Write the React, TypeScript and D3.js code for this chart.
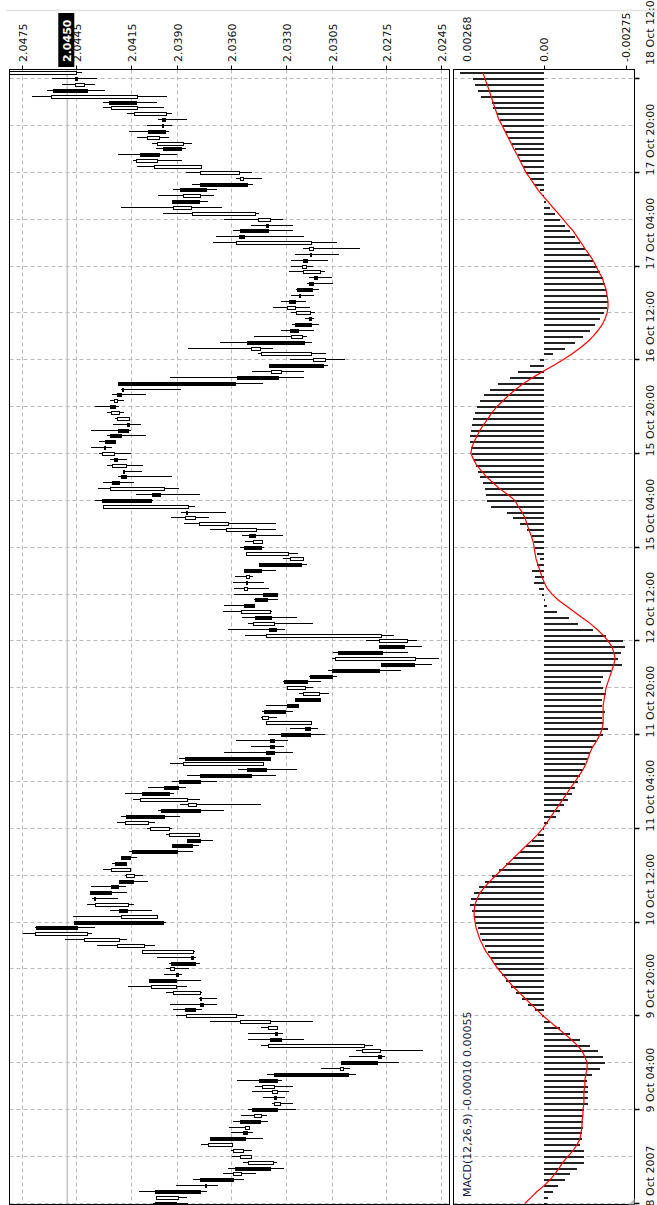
import React from "react";
import * as d3 from "d3";

// Price axis (rotated chart: price runs horizontally, high on the left)
const PRICE_TICKS = [2.0475, 2.0445, 2.0415, 2.039, 2.036, 2.033, 2.0305, 2.0275, 2.0245];
const PRICE_TICK_LABELS = ["2.0475", "2.0445", "2.0415", "2.0390", "2.0360", "2.0330", "2.0305", "2.0275", "2.0245"];
const BID_PRICE = 2.045;
const BID_LABEL = "2.0450";

// MACD axis
const MACD_MAX = 0.00268;
const MACD_MIN = -0.00275;
const MACD_TICK_LABELS = ["0.00268", "0.00", "-0.00275"];
const MACD_TITLE = "MACD(12,26,9) -0.00010 0.00055";

// Time axis, bars listed newest first (index 0 = 18 Oct 13:00)
const TIME_LABELS = ["18 Oct 12:00", "17 Oct 20:00", "17 Oct 04:00", "16 Oct 12:00", "15 Oct 20:00", "15 Oct 04:00", "12 Oct 12:00", "11 Oct 20:00", "11 Oct 04:00", "10 Oct 12:00", "9 Oct 20:00", "9 Oct 04:00", "8 Oct 2007"];
const TIME_LABEL_BARS = [1, 17, 33, 49, 65, 81, 97, 113, 129, 145, 161, 177, 193];

const OPEN = [
2.04448,2.04454,2.04408,2.04576,2.04116,2.04266,2.04116,2.03955,2.03977,2.0398,
2.04055,2.03997,2.0386,2.03973,2.04101,2.04006,2.03763,2.03556,2.03531,2.03767,
2.03878,2.03772,2.03924,2.03818,2.03467,2.03384,2.03406,2.03549,2.03558,2.0316,
2.03151,2.03169,2.03202,2.03187,2.03114,2.03147,2.03172,2.03236,2.03227,2.03282,
2.03247,2.03169,2.03172,2.03251,2.03275,2.03209,2.03511,2.03443,2.0316,2.03084,
2.03391,2.03324,2.03569,2.04219,2.04199,2.04227,2.04223,2.04265,2.04214,2.04159,
2.04172,2.04218,2.04265,2.04291,2.04296,2.04241,2.04241,2.04177,2.04192,2.04201,
2.04251,2.03967,2.04035,2.04305,2.03836,2.03848,2.03797,2.03614,2.03461,2.03501,
2.03428,2.03528,2.03285,2.03205,2.03446,2.03527,2.03501,2.03519,2.0351,2.03422,
2.0347,2.03527,2.03386,2.0347,2.03364,2.03391,2.02779,2.02633,2.02789,2.03013,
2.02589,2.02779,2.03046,2.03165,2.03311,2.03193,2.03119,2.03246,2.03293,2.03416,
2.03394,2.0316,2.03196,2.03324,2.03388,2.03388,2.03406,2.03854,2.03425,2.03511,
2.03768,2.03887,2.03968,2.04088,2.03841,2.03794,2.03982,2.04178,2.04052,2.0394,
2.03777,2.03841,2.03922,2.04143,2.04202,2.04234,2.04156,2.04132,2.04216,2.04256,
2.0437,2.04353,2.04165,2.04211,2.04004,2.04458,2.04668,2.04388,2.04214,2.04077,
2.03809,2.03821,2.03927,2.03913,2.039,2.0405,2.039,2.03768,2.03767,2.03772,
2.03854,2.03571,2.03384,2.03346,2.03357,2.03388,2.02871,2.02785,2.02794,2.02999,
2.02986,2.03366,2.03447,2.03361,2.03346,2.03364,2.0333,2.03485,2.03434,2.03549,
2.03503,2.03534,2.03717,2.03595,2.03531,2.03492,2.0337,2.03575,2.03547,2.03768,
2.03741,2.04015,2.03891,2.04015];

const HIGH = [
2.0484,2.04586,2.04527,2.04609,2.04695,2.04306,2.04306,2.04174,2.04001,2.04061,
2.0416,2.04119,2.04037,2.04015,2.04224,2.04138,2.04119,2.03849,2.03575,2.03814,
2.03918,2.04001,2.03927,2.04207,2.03977,2.03639,2.03492,2.03589,2.03684,2.03703,
2.03205,2.03251,2.03273,2.03275,2.03284,2.03172,2.03187,2.03247,2.03275,2.0333,
2.0337,2.03273,2.03196,2.03269,2.0333,2.03476,2.03662,2.0384,2.03452,2.03278,
2.03391,2.03486,2.03936,2.04223,2.04205,2.04256,2.04265,2.04347,2.04282,2.04241,
2.04251,2.04369,2.04282,2.04324,2.04369,2.04324,2.04265,2.04283,2.04196,2.04223,
2.04305,2.04333,2.04123,2.04347,2.043,2.03879,2.03931,2.03858,2.0372,2.03543,
2.03528,2.03552,2.03518,2.03318,2.03446,2.03527,2.03583,2.03592,2.03587,2.03587,
2.03477,2.03642,2.03647,2.03543,2.0351,2.03616,2.03528,2.02861,2.02789,2.03044,
2.0305,2.02779,2.03068,2.03174,2.03315,2.03291,2.03229,2.03246,2.03412,2.0343,
2.03439,2.03406,2.03278,2.03397,2.03575,2.03494,2.03639,2.03887,2.03937,2.03565,
2.03845,2.03927,2.04055,2.04183,2.04138,2.03882,2.04001,2.04207,2.04225,2.04061,
2.0396,2.03845,2.03927,2.04161,2.04202,2.04256,2.04306,2.04183,2.04216,2.0437,
2.04375,2.04362,2.04394,2.04266,2.04467,2.04463,2.04677,2.04745,2.04512,2.04339,
2.04088,2.0401,2.03942,2.0396,2.03968,2.0405,2.04169,2.0396,2.03777,2.03937,
2.03922,2.03904,2.03717,2.03437,2.03511,2.03511,2.03437,2.02917,2.02955,2.02999,
2.03108,2.03406,2.03567,2.0347,2.03485,2.03428,2.03379,2.03511,2.03549,2.03589,
2.03613,2.03604,2.03717,2.03767,2.03604,2.03595,2.03534,2.0362,2.03644,2.03809,
2.03904,2.04105,2.0401,2.04028];

const LOW = [
2.04421,2.04339,2.04348,2.04293,2.03955,2.0401,2.03969,2.03924,2.03841,2.03924,
2.0394,2.0394,2.03818,2.03851,2.039,2.03873,2.03759,2.03489,2.0343,2.0348,
2.03681,2.03695,2.03726,2.0365,2.03447,2.03319,2.03264,2.03264,2.032,2.03023,
2.02895,2.03008,2.03072,2.03154,2.03087,2.03048,2.03041,2.03119,2.03145,2.03193,
2.03169,2.03141,2.03145,2.03119,2.03145,2.03183,2.0316,2.0337,2.03081,2.02975,
2.03071,2.03203,2.03203,2.03428,2.03876,2.04068,2.04187,2.04219,2.04187,2.04154,
2.04095,2.0415,2.04068,2.04236,2.04254,2.0415,2.04172,2.04086,2.04092,2.03925,
2.04132,2.0389,2.03772,2.04028,2.03797,2.03629,2.03724,2.03355,2.03355,2.03315,
2.03428,2.03419,2.03236,2.03205,2.03185,2.03355,2.03483,2.03419,2.03395,2.03346,
2.03346,2.0347,2.03377,2.03241,2.03154,2.03305,2.02706,2.02583,2.02556,2.0263,
2.02461,2.02502,2.0267,2.03023,2.0311,2.0315,2.03063,2.0311,2.03233,2.03264,
2.03352,2.0316,2.03127,2.03087,2.03288,2.03311,2.03264,2.03384,2.03425,2.03242,
2.03357,2.03681,2.03849,2.03915,2.03772,2.03439,2.0364,2.03882,2.04019,2.03924,
2.03772,2.03699,2.03776,2.03809,2.04116,2.04171,2.04156,2.04083,2.04059,2.04178,
2.04171,2.0422,2.04132,2.04033,2.04004,2.0396,2.04348,2.04366,2.04171,2.04019,
2.03799,2.03794,2.03772,2.03832,2.03873,2.03768,2.03845,2.03763,2.03681,2.03681,
2.03763,2.03531,2.0315,2.03346,2.03315,2.032,2.02821,2.02551,2.02757,2.02679,
2.02949,2.02918,2.0332,2.03264,2.03282,2.03306,2.03264,2.03246,2.03406,2.03401,
2.03503,2.0348,2.03425,2.03595,2.03489,2.03489,2.03352,2.03311,2.03465,2.03529,
2.03675,2.03735,2.03841,2.03836];

const CLOSE = [
2.0482,2.04443,2.04454,2.04388,2.04585,2.04123,2.04256,2.04134,2.03962,2.0398,
2.03964,2.04061,2.04004,2.03876,2.03997,2.04119,2.04024,2.03772,2.03549,2.03512,
2.03739,2.03863,2.03777,2.03918,2.03814,2.03452,2.03394,2.03394,2.03529,2.03571,
2.03172,2.03169,2.03183,2.03211,2.03202,2.03129,2.03151,2.03154,2.03227,2.03246,
2.03291,2.03242,2.0316,2.0316,2.03233,2.03269,2.032,2.03492,2.03434,2.03148,
2.03095,2.03382,2.0334,2.0358,2.04199,2.04205,2.04241,2.04238,2.04256,2.04223,
2.04157,2.04165,2.04205,2.04238,2.04296,2.04305,2.04223,2.04251,2.04192,2.04174,
2.04214,2.04265,2.03989,2.04037,2.043,2.03848,2.03854,2.03775,2.03629,2.03468,
2.03477,2.03433,2.03518,2.03276,2.03218,2.03435,2.03516,2.0351,2.03527,2.03346,
2.03404,2.03474,2.03543,2.03379,2.03479,2.03355,2.03406,2.02788,2.02653,2.02772,
2.03028,2.02597,2.02789,2.03046,2.03183,2.03291,2.03205,2.0311,2.03233,2.03302,
2.0343,2.03406,2.03169,2.03169,2.03361,2.03361,2.03361,2.03388,2.03863,2.03406,
2.03489,2.03768,2.03891,2.03937,2.04097,2.03836,2.03768,2.03969,2.04183,2.04046,
2.03937,2.03768,2.03816,2.03898,2.04156,2.04178,2.04255,2.04174,2.04138,2.0422,
2.0426,2.04353,2.04344,2.04171,2.04202,2.03973,2.04445,2.04673,2.04408,2.04225,
2.04088,2.03809,2.03796,2.03935,2.03891,2.039,2.04037,2.03918,2.03767,2.03754,
2.03796,2.03849,2.03549,2.03397,2.03346,2.03328,2.03397,2.02882,2.02776,2.028,
2.03004,2.02959,2.03346,2.03428,2.03374,2.03352,2.03364,2.03346,2.03476,2.03439,
2.03522,2.03512,2.03522,2.03726,2.03589,2.03549,2.03507,2.03384,2.03589,2.03586,
2.03741,2.03772,2.0401,2.039];

const MACD_MAIN = [
0.00256,0.00216,0.0021,0.00201,0.00192,0.00158,0.00155,0.00143,0.00134,0.00124,
0.00118,0.00109,0.00097,0.00087,0.00078,0.00072,0.00063,0.00054,0.00041,0.00026,
0.00011,0.00002,-0.00008,-0.0002,-0.00035,-0.0005,-0.00066,-0.00081,-0.00097,-0.00112,
-0.00127,-0.00143,-0.00152,-0.00164,-0.00173,-0.00183,-0.00189,-0.00192,-0.00195,-0.00198,
-0.00195,-0.00186,-0.00173,-0.00158,-0.00143,-0.00121,-0.00097,-0.00066,-0.00029,0.00011,
0.00041,0.00078,0.00103,0.0014,0.00164,0.00183,0.00195,0.00204,0.0021,0.00216,
0.0022,0.00223,0.00226,0.00226,0.00223,0.0022,0.00213,0.00207,0.00201,0.00195,
0.00186,0.0018,0.00177,0.00173,0.00161,0.00112,0.00094,0.00072,0.00051,0.00035,
0.00029,0.00026,0.0002,0.00011,0.0002,0.00035,0.00026,0.00029,0.00014,0.00005,
-0.00005,-0.00011,-0.00041,-0.00078,-0.00106,-0.00152,-0.00192,-0.00244,-0.0025,-0.00238,
-0.00229,-0.00241,-0.00207,-0.00183,-0.00177,-0.00183,-0.00192,-0.0018,-0.0018,-0.00189,
-0.0018,-0.00183,-0.00198,-0.00183,-0.00161,-0.00152,-0.00143,-0.00137,-0.00127,-0.00121,
-0.00112,-0.00106,-0.00097,-0.00087,-0.00075,-0.00063,-0.0005,-0.00038,-0.00014,0.00002,
0.00017,0.00035,0.00054,0.00072,0.00094,0.00115,0.00137,0.00158,0.0018,0.00198,
0.00213,0.00223,0.00226,0.0022,0.00213,0.00207,0.00201,0.00195,0.00189,0.0018,
0.0017,0.00161,0.00152,0.0014,0.00127,0.00115,0.001,0.00084,0.00066,0.00048,
0.00026,0.00005,-0.0002,-0.00051,-0.00081,-0.00112,-0.00143,-0.00167,-0.00183,-0.00189,
-0.00173,-0.00149,-0.00134,-0.00137,-0.00137,-0.00137,-0.00137,-0.00124,-0.00121,-0.00121,
-0.00121,-0.00118,-0.00118,-0.00112,-0.00124,-0.00124,-0.00124,-0.00103,-0.00081,-0.00066,
-0.00045,-0.00029,-0.00014,-0.00011];

const MACD_SIGNAL = [
0.00186,0.0018,0.00173,0.00167,0.00161,0.00155,0.00149,0.00143,0.00137,0.00127,
0.00118,0.00109,0.001,0.00091,0.00081,0.00072,0.00063,0.00054,0.00041,0.00029,
0.00017,0.00002,-0.00014,-0.00029,-0.00045,-0.0006,-0.00075,-0.00091,-0.00103,-0.00115,
-0.00127,-0.0014,-0.00152,-0.00161,-0.0017,-0.0018,-0.00186,-0.00192,-0.00195,-0.00198,
-0.00198,-0.00195,-0.00189,-0.0018,-0.00167,-0.00152,-0.00134,-0.00112,-0.00087,-0.0006,
-0.00029,0.00002,0.00032,0.0006,0.00084,0.00106,0.00124,0.00143,0.00158,0.0017,
0.00183,0.00195,0.00204,0.00213,0.0022,0.00223,0.00215,0.00205,0.0019,0.00175,
0.00155,0.00135,0.0011,0.00088,0.00078,0.00066,0.00057,0.00051,0.00045,0.00038,
0.00032,0.00029,0.00026,0.00023,0.00017,0.00011,0.00005,-0.00002,-0.00011,-0.00026,
-0.00045,-0.00069,-0.00094,-0.00118,-0.00143,-0.00164,-0.00183,-0.00198,-0.0021,-0.00216,
-0.0022,-0.00216,-0.0021,-0.00204,-0.00198,-0.00192,-0.00189,-0.00186,-0.00183,-0.00183,
-0.00183,-0.00183,-0.0018,-0.00173,-0.00164,-0.00152,-0.00143,-0.00137,-0.0013,-0.00121,
-0.00109,-0.00097,-0.00084,-0.00072,-0.0006,-0.00048,-0.00035,-0.00023,-0.00011,0.00002,
0.00017,0.00035,0.00054,0.00072,0.00091,0.00109,0.00127,0.00146,0.00164,0.0018,
0.00195,0.00204,0.0021,0.00213,0.00213,0.0021,0.00207,0.00201,0.00195,0.00186,
0.00177,0.00164,0.00152,0.0014,0.00124,0.00109,0.00094,0.00075,0.00057,0.00038,
0.0002,0.00002,-0.0002,-0.00041,-0.00063,-0.00084,-0.00103,-0.00118,-0.00127,-0.00134,
-0.00134,-0.0013,-0.00127,-0.00127,-0.00124,-0.00124,-0.00124,-0.00121,-0.00121,-0.00118,
-0.00118,-0.00115,-0.00112,-0.00103,-0.00091,-0.00075,-0.0006,-0.00048,-0.00035,-0.0002,
-0.00002,0.0002,0.00038,0.00057];

const FONT = "DejaVu Sans";
const GRID = "#b8b8b8";

export default function App() {
  const N = OPEN.length;
  // layout
  const mainL = 9.5, mainR = 449.5, macdL = 453.5, macdR = 634.5, top = 69.5, bottom = 1204.5;

  const yBar = d3.scaleLinear().domain([0, N - 1]).range([72.3, 1202.7]);
  const xPrice = d3.scaleLinear().domain([2.0475, 2.0305]).range([21.7, 331.7]);
  const xMacd = d3.scaleLinear().domain([MACD_MAX, MACD_MIN]).range([456.2, 633.1]);
  const gridBars = d3.range(1, N, 8);
  const zeroX = xMacd(0);
  const macdLabelX = [xMacd(MACD_MAX) + 11, xMacd(0) + 0.5, xMacd(MACD_MIN) - 7];

  const signalPath = d3
    .line<number>()
    .x((v) => xMacd(v))
    .y((_, i) => yBar(i) + 0.5)
    .curve(d3.curveLinear)(MACD_SIGNAL) as string;

  return (
    <svg
      width={657}
      height={1205}
      style={{ position: "absolute", left: 0, top: 0, background: "#fff" }}
      fontFamily={FONT}
    >
      <defs>
        <clipPath id="mainClip">
          <rect x={mainL} y={top} width={mainR - mainL} height={bottom - top} />
        </clipPath>
        <clipPath id="macdClip">
          <rect x={macdL} y={top} width={macdR - macdL} height={bottom - top} />
        </clipPath>
      </defs>
      <rect x={0} y={0} width={657} height={1205} fill="#fff" />
      <line x1={6} x2={657} y1={10.5} y2={10.5} stroke="#e2e2e2" strokeWidth={1.5} />

      {/* grid: horizontal (time) */}
      {gridBars.map((b) => {
        const y = Math.round(yBar(b)) + 0.5;
        return (
          <g key={"hg" + b}>
            <line x1={mainL} x2={mainR} y1={y} y2={y} stroke={GRID} strokeDasharray="4,3" />
            <line x1={macdL} x2={macdR} y1={y} y2={y} stroke={GRID} strokeDasharray="4,3" />
          </g>
        );
      })}
      {/* grid: vertical (price) */}
      {PRICE_TICKS.map((p, i) => {
        const x = Math.round(xPrice(p)) + 0.5;
        return <line key={"vg" + i} x1={x} x2={x} y1={top} y2={bottom} stroke={GRID} strokeDasharray="4,3" />;
      })}

      {/* bid line */}
      <line x1={xPrice(BID_PRICE)} x2={xPrice(BID_PRICE)} y1={top} y2={bottom} stroke="#c4c4c4" strokeWidth={1.5} />

      {/* candles */}
      <g clipPath="url(#mainClip)" shapeRendering="crispEdges">
        {OPEN.map((o, i) => {
          const c = CLOSE[i];
          const y = Math.round(yBar(i));
          const xo = xPrice(o);
          const xc = xPrice(c);
          const bull = c > o;
          const x1 = Math.min(xo, xc);
          const w = Math.max(Math.abs(xo - xc), 1);
          return (
            <g key={"c" + i}>
              <line x1={xPrice(HIGH[i])} x2={xPrice(LOW[i])} y1={y + 0.5} y2={y + 0.5} stroke="#000" />
              <rect x={x1} y={y - 0.5} width={w} height={3} fill={bull ? "#fff" : "#000"} stroke="#000" />
            </g>
          );
        })}
      </g>

      {/* MACD histogram + signal */}
      <g clipPath="url(#macdClip)">
        <g shapeRendering="crispEdges">
          {MACD_MAIN.map((v, i) => {
            const y = Math.round(yBar(i)) + 1;
            return <line key={"m" + i} x1={zeroX} x2={xMacd(v)} y1={y} y2={y} stroke="#222" strokeWidth={2} />;
          })}
        </g>
        <path d={signalPath} fill="none" stroke="#ff0000" strokeWidth={1.2} />
      </g>

      {/* frames */}
      <rect x={mainL} y={top} width={mainR - mainL} height={bottom - top} fill="none" stroke="#000" />
      <rect x={macdL} y={top} width={macdR - macdL} height={bottom - top} fill="none" stroke="#000" />
      <path d={`M${macdR - 6},${bottom} L${macdR},${bottom - 6} L${macdR},${bottom} Z`} fill="#bbb" />

      {/* price axis ticks + labels */}
      {PRICE_TICKS.map((p, i) => {
        const x = Math.round(xPrice(p)) + 0.5;
        return (
          <g key={"pt" + i}>
            <line x1={x} x2={x} y1={top - 4} y2={top} stroke="#000" />
            <text transform={`translate(${x + 4},62) rotate(-90)`} fontSize={11} fill="#111">
              {PRICE_TICK_LABELS[i]}
            </text>
          </g>
        );
      })}
      {/* bid label */}
      <rect x={xPrice(BID_PRICE) - 9} y={13} width={16} height={54} fill="#000" />
      <text
        transform={`translate(${xPrice(BID_PRICE) + 3.5},62) rotate(-90)`}
        fontSize={11}
        fontWeight="bold"
        fill="#fff"
      >
        {BID_LABEL}
      </text>

      {/* MACD axis labels */}
      {MACD_TICK_LABELS.map((t, i) => (
        <g key={"mt" + i}>
          {i > 0 && (
            <line x1={Math.round(macdLabelX[i]) + 0.5} x2={Math.round(macdLabelX[i]) + 0.5} y1={top - 4} y2={top} stroke="#000" />
          )}
          <text transform={`translate(${macdLabelX[i] + 4},62) rotate(-90)`} fontSize={11} fill="#111">
            {t}
          </text>
        </g>
      ))}
      <text transform={`translate(${xMacd(MACD_MAX) + 15},1197) rotate(-90)`} fontSize={11} fill="#1a1a40">
        {MACD_TITLE}
      </text>

      {/* time axis */}
      {TIME_LABELS.map((t, i) => {
        const y = Math.round(yBar(TIME_LABEL_BARS[i])) + 0.5;
        return (
          <g key={"tl" + i}>
            <line x1={macdR} x2={macdR + 5} y1={y} y2={y} stroke="#000" strokeWidth={1.5} />
            <text transform={`translate(654,${i === 0 ? 65 : y + 3}) rotate(-90)`} fontSize={11} fill="#111">
              {t}
            </text>
          </g>
        );
      })}
    </svg>
  );
}
